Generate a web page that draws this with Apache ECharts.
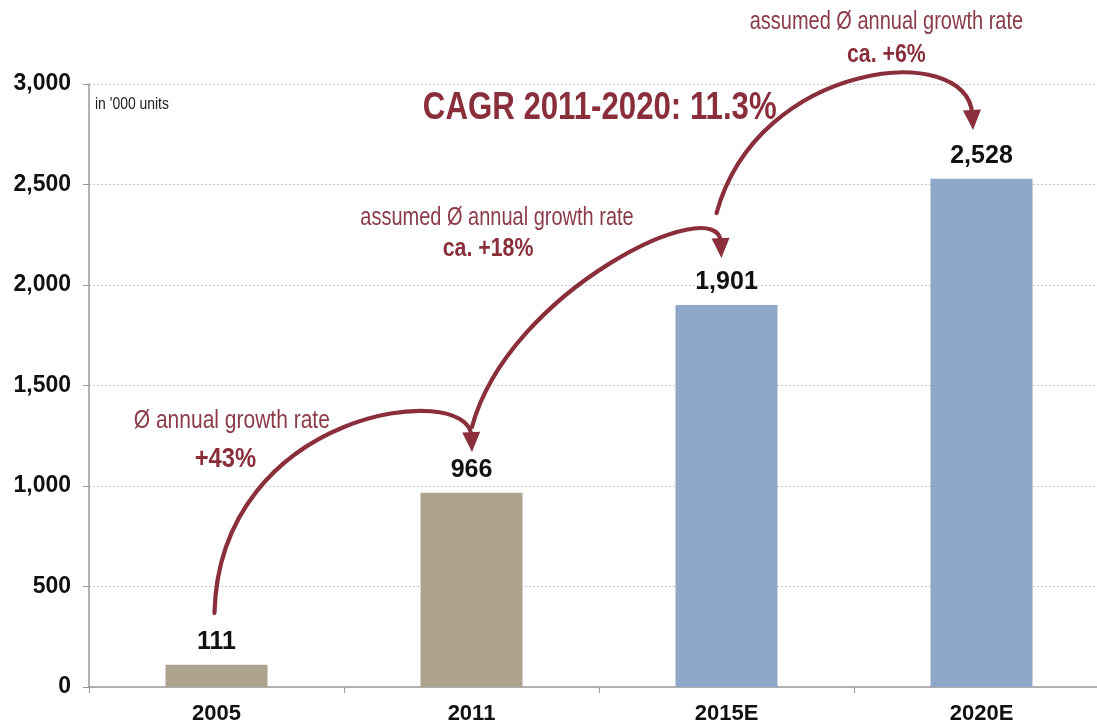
<!DOCTYPE html>
<html>
<head>
<meta charset="utf-8">
<script src="https://cdn.jsdelivr.net/npm/echarts@6/dist/echarts.min.js"></script>
<style>
  html, body { margin: 0; padding: 0; background: #fff; }
  #chart { width: 1097px; height: 727px; }
</style>
</head>
<body>
<div id="chart"></div>
<script>
// Unit sales (in '000 units), actual and estimated
const categories = ['2005', '2011', '2015E', '2020E'];
const units = [111, 966, 1901, 2528];
const estimated = [false, false, true, true];
const yTicks = [0, 500, 1000, 1500, 2000, 2500, 3000];

const SANS = "'Liberation Sans', Arial, Helvetica, sans-serif";
const RED = '#8a2e3b';
const TEXT_RED = '#8b3b49';

// Growth arrows, given in axis space: [category position, value]
// points: start, control 1, control 2, tip
const arrows = [
  [[-0.008, 368], [0.012, 1380], [0.99, 1530], [1.002, 1169]],
  [[1.002, 1294], [1.147, 1975], [1.969, 2473], [1.98, 2134]],
  [[1.961, 2358], [2.125, 3119], [2.947, 3219], [2.967, 2771]]
];

// Annotation texts, anchored in axis space; squeeze narrows the glyphs
const notes = [
  { text: 'Ø annual growth rate', at: [0.06, 1322], size: 25, weight: 'normal', squeeze: 0.84 },
  { text: '+43%', at: [0.035, 1134], size: 28, weight: 'bold', squeeze: 0.85 },
  { text: 'assumed Ø annual growth rate', at: [1.10, 2333], size: 25, weight: 'normal', squeeze: 0.8 },
  { text: 'ca. +18%', at: [1.065, 2182], size: 26, weight: 'bold', squeeze: 0.82 },
  { text: 'assumed Ø annual growth rate', at: [2.627, 3308], size: 25, weight: 'normal', squeeze: 0.8 },
  { text: 'ca. +6%', at: [2.627, 3144], size: 26, weight: 'bold', squeeze: 0.82 },
  { text: 'CAGR 2011-2020: 11.3%', at: [1.503, 2881], size: 39, weight: 'bold', squeeze: 0.8 }
];

const chart = echarts.init(document.getElementById('chart'), null, { renderer: 'canvas' });

const option = {
  animation: false,
  backgroundColor: '#fff',
  grid: { left: 89, top: 84, bottom: 40, width: 1020, outerBoundsMode: 'none', containLabel: false },
  xAxis: {
    type: 'category',
    data: categories,
    axisLine: { lineStyle: { color: '#9a9a9a', width: 1.5 } },
    axisTick: { show: true, length: 6, lineStyle: { color: '#9a9a9a' } },
    axisLabel: { color: '#111', fontFamily: SANS, fontWeight: 'bold', fontSize: 22, margin: 16 }
  },
  yAxis: {
    type: 'value',
    min: 0,
    max: 3000,
    interval: 500,
    axisLine: { show: true, lineStyle: { color: '#9a9a9a', width: 1.5 } },
    axisTick: { show: true, length: 6, lineStyle: { color: '#9a9a9a' } },
    splitLine: { lineStyle: { color: '#c8c8c8', type: [2, 2], width: 1 } },
    axisLabel: {
      color: '#111', fontFamily: SANS, fontWeight: 'bold', fontSize: 23, margin: 18,
      formatter: v => yTicks.includes(v) ? v.toLocaleString('en-US') : ''
    }
  },
  series: [{
    type: 'bar',
    barWidth: 102,
    data: units.map((v, i) => ({
      value: v,
      itemStyle: { color: estimated[i] ? '#8fa7c8' : '#ada38e' }
    })),
    label: {
      show: true,
      position: 'top',
      distance: 10,
      color: '#111',
      fontFamily: SANS,
      fontWeight: 'bold',
      fontSize: 25,
      formatter: p => p.value.toLocaleString('en-US')
    }
  }]
};

chart.setOption(option);

function toPx(pt) {
  const c0 = chart.convertToPixel({ xAxisIndex: 0 }, categories[0]);
  const c1 = chart.convertToPixel({ xAxisIndex: 0 }, categories[1]);
  const y = chart.convertToPixel({ yAxisIndex: 0 }, pt[1]);
  return [c0 + pt[0] * (c1 - c0), y];
}

function buildGraphics() {
  const els = [];
  arrows.forEach(a => {
    const p = a.map(toPx);
    const tip = p[3];
    const dx = tip[0] - p[2][0], dy = tip[1] - p[2][1];
    const len = Math.hypot(dx, dy);
    const ux = dx / len, uy = dy / len;
    const headLen = 20, headHalf = 9;
    const base = [tip[0] - ux * headLen, tip[1] - uy * headLen];
    // shorten the curve so it ends inside the arrowhead
    const end = [tip[0] - ux * (headLen - 4), tip[1] - uy * (headLen - 4)];
    els.push({
      type: 'bezierCurve',
      shape: {
        x1: p[0][0], y1: p[0][1],
        cpx1: p[1][0], cpy1: p[1][1],
        cpx2: p[2][0], cpy2: p[2][1],
        x2: end[0], y2: end[1]
      },
      style: { stroke: RED, lineWidth: 4.2, fill: null, lineCap: 'round' },
      silent: true
    });
    els.push({
      type: 'polygon',
      shape: {
        points: [
          tip,
          [base[0] - uy * headHalf, base[1] + ux * headHalf],
          [base[0] + uy * headHalf, base[1] - ux * headHalf]
        ]
      },
      style: { fill: RED },
      silent: true
    });
  });
  notes.forEach(n => {
    const p = toPx(n.at);
    els.push({
      type: 'text',
      x: p[0], y: p[1],
      scaleX: n.squeeze,
      style: {
        text: n.text,
        fill: n.weight === 'bold' ? RED : TEXT_RED,
        font: n.weight + ' ' + n.size + 'px ' + SANS,
        align: 'center',
        verticalAlign: 'middle'
      },
      silent: true
    });
  });
  const unitPos = chart.convertToPixel({ yAxisIndex: 0 }, 3000);
  els.push({
    type: 'text',
    x: 95, y: unitPos + 20,
    scaleX: 0.82,
    style: { text: "in '000 units", fill: '#222', font: 'normal 17px ' + SANS, align: 'left', verticalAlign: 'middle' },
    silent: true
  });
  return els;
}

chart.setOption({ graphic: { elements: buildGraphics() } });
</script>
</body>
</html>
